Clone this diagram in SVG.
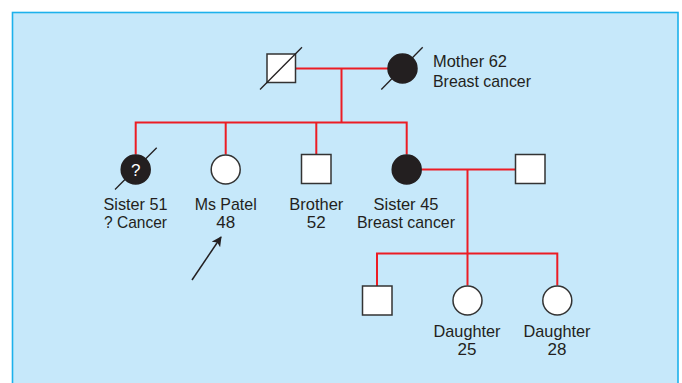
<svg xmlns="http://www.w3.org/2000/svg" width="682" height="383" viewBox="0 0 682 383">
<defs>
<style>
.bg{fill:#c6e8fa;stroke:#1cb1ec;stroke-width:1.6}
.red{fill:none;stroke:#ec1c24;stroke-width:2}
.m{fill:#ffffff;stroke:#333333;stroke-width:1.5}
.aff{fill:#231f20;stroke:#231f20;stroke-width:1.5}
.dl{stroke:#231f20;stroke-width:1.3}
.t{font-family:"Liberation Sans",Arial,sans-serif;font-size:17px;fill:#231f20}
.c{text-anchor:middle}
</style>
<marker id="ah" viewBox="0 0 10 10" refX="9" refY="5" markerWidth="10" markerHeight="10" markerUnits="userSpaceOnUse" orient="auto">
<path d="M0,0 L10,5 L0,10 L2.5,5 z" fill="#231f20"/>
</marker>
</defs>
<rect class="bg" x="12.5" y="12.5" width="665.5" height="385"/>
<g id="connectors">
<path class="red" d="M295,68.5 H388 M341.5,68.5 V122.5 M135.7,154.5 V122.5 H406.7 V154.5 M225.7,122.5 V154.5 M316.3,122.5 V154.5"/>
<path class="red" d="M421.7,169.5 H515.5 M467.5,169.5 V253.5 M377,286 V253.5 H557.3 V285.5 M467.5,253.5 V285.5"/>
<line x1="192" y1="280" x2="221" y2="237" stroke="#231f20" stroke-width="1.5" marker-end="url(#ah)"/>
</g>
<g id="father">
<rect class="m" x="267" y="54" width="28.5" height="28.5"/>
<line class="dl" x1="260" y1="89.5" x2="302" y2="47.3"/>
</g>
<g id="mother">
<circle class="aff" cx="402.5" cy="68.5" r="14.5"/>
<line class="dl" x1="381.3" y1="89.5" x2="422.7" y2="47.3"/>
<text class="t" x="433" y="67" textLength="74" lengthAdjust="spacingAndGlyphs">Mother 62</text>
<text class="t" x="433" y="86.5" textLength="98" lengthAdjust="spacingAndGlyphs">Breast cancer</text>
</g>
<g id="sister51">
<circle class="aff" cx="135.7" cy="169.5" r="14.5"/>
<line class="dl" x1="115" y1="189.5" x2="156.7" y2="147.7"/>
<text x="135.7" y="176" text-anchor="middle" font-family="Liberation Sans,Arial,sans-serif" font-size="17" fill="#ffffff">?</text>
<text class="t c" x="135.5" y="210" textLength="64" lengthAdjust="spacingAndGlyphs">Sister 51</text>
<text class="t c" x="135.5" y="228" textLength="63" lengthAdjust="spacingAndGlyphs">? Cancer</text>
</g>
<g id="mspatel">
<circle class="m" cx="225.7" cy="169.5" r="14.5"/>
<text class="t c" x="225.7" y="210" textLength="62" lengthAdjust="spacingAndGlyphs">Ms Patel</text>
<text class="t c" x="225.7" y="228">48</text>
</g>
<g id="brother">
<rect class="m" x="301.5" y="154.5" width="29.5" height="29"/>
<text class="t c" x="316.3" y="210" textLength="54" lengthAdjust="spacingAndGlyphs">Brother</text>
<text class="t c" x="316.3" y="228">52</text>
</g>
<g id="sister45">
<circle class="aff" cx="406.7" cy="169.5" r="14.5"/>
<text class="t c" x="406" y="210" textLength="65" lengthAdjust="spacingAndGlyphs">Sister 45</text>
<text class="t c" x="406" y="228" textLength="98" lengthAdjust="spacingAndGlyphs">Breast cancer</text>
</g>
<g id="husband">
<rect class="m" x="515.5" y="154.5" width="29.5" height="29"/>
</g>
<g id="son">
<rect class="m" x="362.5" y="286" width="29.5" height="29"/>
</g>
<g id="daughter25">
<circle class="m" cx="467.5" cy="300.5" r="14.5"/>
<text class="t c" x="467" y="336.5" textLength="67" lengthAdjust="spacingAndGlyphs">Daughter</text>
<text class="t c" x="467" y="355">25</text>
</g>
<g id="daughter28">
<circle class="m" cx="557.3" cy="300.5" r="14.5"/>
<text class="t c" x="557" y="336.5" textLength="67" lengthAdjust="spacingAndGlyphs">Daughter</text>
<text class="t c" x="557" y="355">28</text>
</g>
</svg>
